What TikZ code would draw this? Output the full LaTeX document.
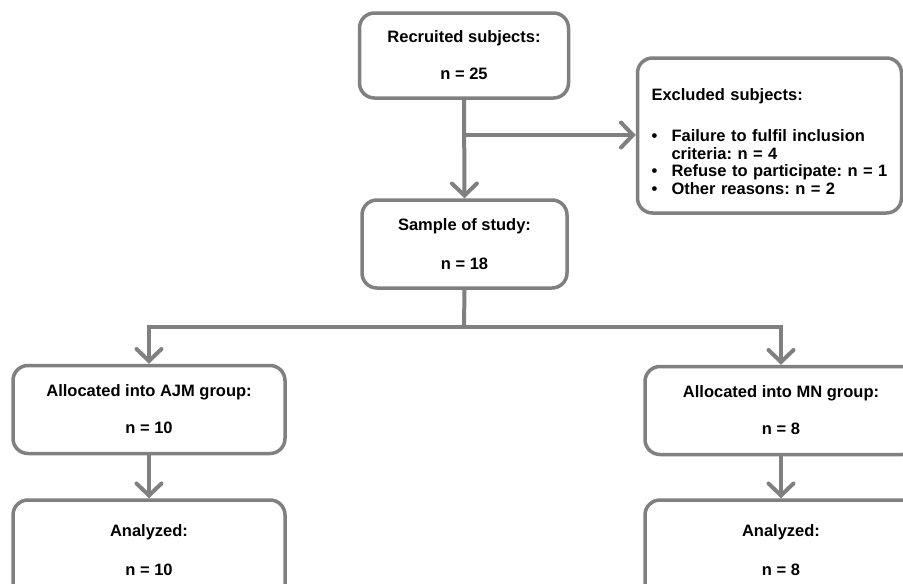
\documentclass[tikz,border=0pt]{standalone}
\usepackage{fontspec}
\setmainfont{Liberation Sans}
\usetikzlibrary{arrows.meta}
\definecolor{lgray}{RGB}{128,128,128}
\tikzset{
  box/.style={draw=lgray, line width=3.5pt, rounded corners=15pt, fill=white,
    align=center, font=\bfseries\fontsize{16.5}{17.5}\selectfont\frenchspacing, inner sep=0pt},
  conn/.style={draw=lgray, line width=4pt},
  arr/.style={conn, -{Straight Barb[length=12pt,width=25pt,line cap=round]}}
}
\begin{document}
\begin{tikzpicture}[x=1pt,y=-1pt]
\useasboundingbox (0,0) rectangle (903,584);
\clip (0,0) rectangle (903,584);
\node[box, minimum width=209pt, minimum height=85pt] (rec) at (464,55.5)
  {Recruited subjects:\\[19.5pt]n = 25};
\node[box, minimum width=264pt, minimum height=155pt, align=left, text width=236pt] (excl) at (769.5,135.5)
  {\rule{0pt}{24pt}Excluded subjects:\\[24pt]
   \makebox[20pt][l]{\textbullet}Failure to fulfil inclusion\\
   \hspace*{20pt}criteria: n = 4\\
   \makebox[20pt][l]{\textbullet}Refuse to participate: n = 1\\
   \makebox[20pt][l]{\textbullet}Other reasons: n = 2};
\node[box, minimum width=205pt, minimum height=88pt] (sam) at (464.5,244)
  {Sample of study:\\[22pt]n = 18};
\node[box, minimum width=272pt, minimum height=88pt] (ajm) at (149,409.5)
  {Allocated into AJM group:\\[19.5pt]n = 10};
\node[box, minimum width=272pt, minimum height=88pt] (mn) at (781,410.5)
  {Allocated into MN group:\\[19.5pt]n = 8};
\node[box, minimum width=272pt, minimum height=100pt] (anl) at (149,550)
  {Analyzed:\\[22pt]n = 10};
\node[box, minimum width=272pt, minimum height=100pt] (anr) at (781,550)
  {Analyzed:\\[22pt]n = 8};
\coordinate (br) at (464,135);
\coordinate (split) at (464,327);
\draw[arr] (rec.south) -- (sam.north);
\draw[arr] (br) -- (br -| excl.west);
\draw[conn] (sam.south) -- (split);
\draw[arr] (split) -| (ajm.north);
\draw[arr] (split) -| (mn.north);
\draw[arr] (ajm.south) -- (anl.north);
\draw[arr] (mn.south) -- (anr.north);
\end{tikzpicture}
\end{document}
